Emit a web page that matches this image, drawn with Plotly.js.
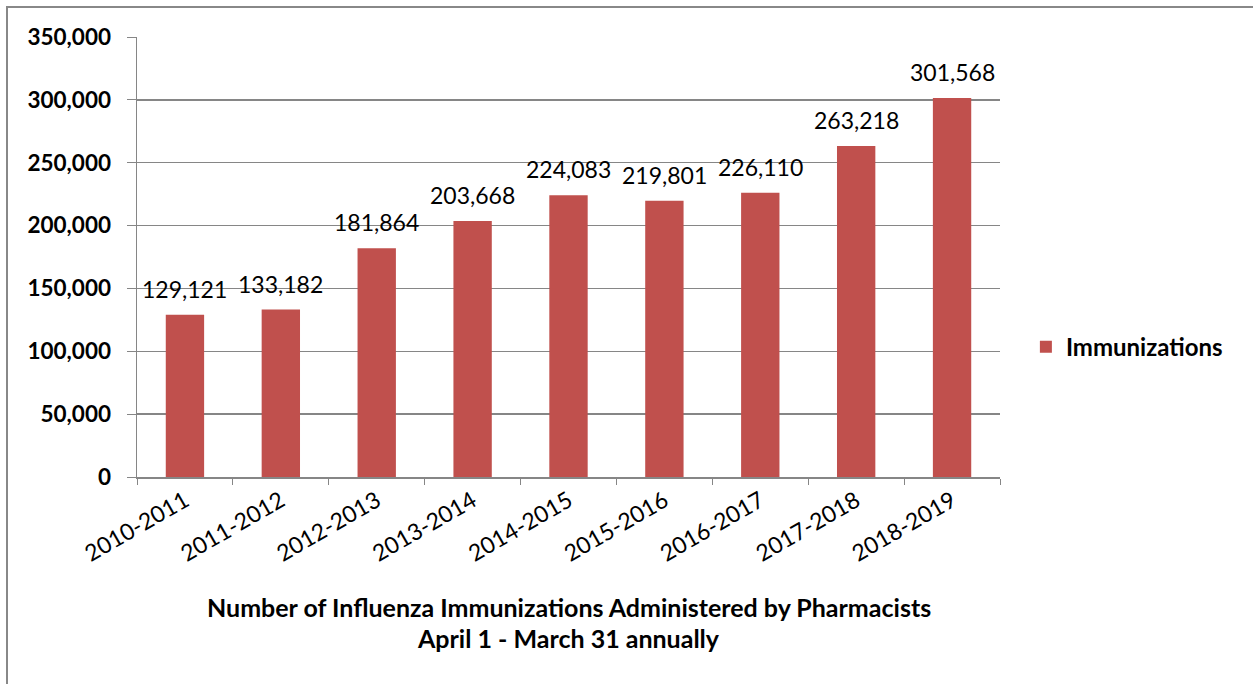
<!DOCTYPE html>
<html>
<head>
<meta charset="utf-8">
<script src="https://cdn.plot.ly/plotly-3.0.1.min.js"></script>
<style>
html,body{margin:0;padding:0;background:#fff;}
#chart{width:1253px;height:684px;}
</style>
</head>
<body>
<div id="chart"></div>
<script>
const categories = ["2010-2011","2011-2012","2012-2013","2013-2014","2014-2015","2015-2016","2016-2017","2017-2018","2018-2019"];
const immunizations = [129121,133182,181864,203668,224083,219801,226110,263218,301568];
const seriesName = "Immunizations";
const tickVals = [0,50000,100000,150000,200000,250000,300000,350000];
const tickText = ["0","50,000","100,000","150,000","200,000","250,000","300,000","350,000"];
const titleLines = ["Number of Influenza Immunizations Administered by Pharmacists","April 1 - March 31 annually"];

const fmt = v => v.toLocaleString("en-US");
const FONT = "Lato, 'Open Sans', sans-serif";

const trace = {
  type: "bar",
  x: categories,
  y: immunizations,
  name: seriesName,
  marker: {color: "#C0504D"},
  hoverinfo: "x+y"
};

const labelAnnotations = categories.map((c, i) => ({
  x: c, y: immunizations[i], xref: "x", yref: "y",
  text: fmt(immunizations[i]),
  showarrow: false, yanchor: "bottom", yshift: 10,
  font: {family: FONT, size: 23, color: "#000"}
}));

const titleAnnotations = [
  {text: "<b>" + titleLines[0] + "</b>", y: -130 / 440},
  {text: "<b>" + titleLines[1] + "</b>", y: -161 / 440}
].map(a => Object.assign({
  x: 0.5, xref: "paper", yref: "paper", showarrow: false,
  xanchor: "center", yanchor: "middle",
  font: {family: FONT, size: 25, color: "#000"}
}, a));

const layout = {
  width: 1253, height: 684,
  margin: {l: 137, r: 253, t: 37, b: 207, pad: 0},
  paper_bgcolor: "#fff", plot_bgcolor: "#fff",
  bargap: 0.6,
  showlegend: true,
  legend: {
    x: 1.03, y: 0.295, xanchor: "left", yanchor: "middle",
    font: {family: FONT, size: 24, color: "#000", weight: "bold"},
    itemwidth: 30
  },
  xaxis: {
    type: "category",
    tickangle: -30,
    ticks: "outside", ticklen: 6, tickcolor: "#868686",
    tickson: "boundaries",
    showline: true, linecolor: "#868686", linewidth: 1.5,
    showgrid: false,
    tickfont: {family: FONT, size: 23, color: "#000"},
    automargin: false
  },
  yaxis: {
    range: [0, 350000],
    tickvals: tickVals, ticktext: tickText,
    ticks: "outside", ticklen: 9, tickcolor: "#868686",
    ticklabelstandoff: 11,
    showline: true, linecolor: "#868686", linewidth: 1.5,
    showgrid: true, gridcolor: "#868686", gridwidth: 1.5,
    zeroline: false,
    tickfont: {family: FONT, size: 22.5, color: "#000", weight: "bold"},
    automargin: false
  },
  annotations: labelAnnotations.concat(titleAnnotations),
  shapes: [{
    type: "rect", xref: "paper", yref: "paper",
    x0: (7 - 137) / 863, x1: 1.4, y0: -1, y1: 1 + 30 / 440,
    line: {color: "#888888", width: 2}, fillcolor: "rgba(0,0,0,0)", layer: "below"
  }]
};

Plotly.newPlot("chart", [trace], layout, {displayModeBar: false, staticPlot: true});
</script>
</body>
</html>
